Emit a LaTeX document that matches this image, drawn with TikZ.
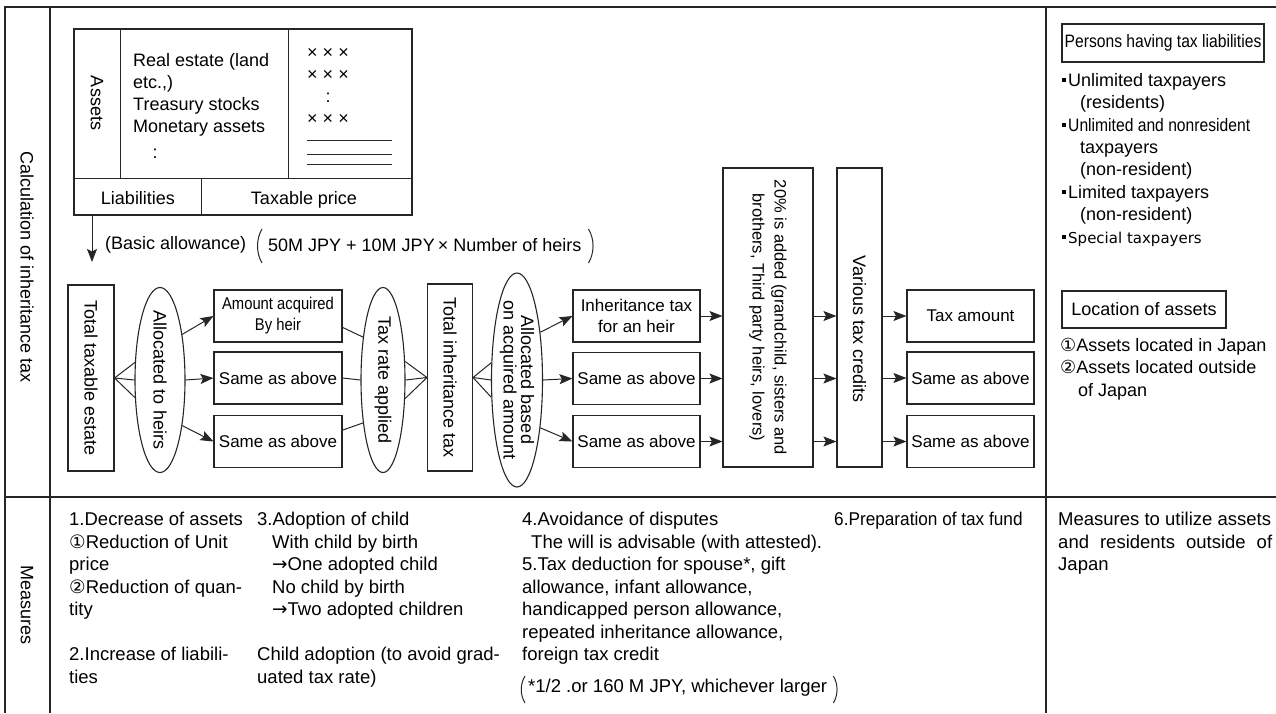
\documentclass[tikz,border=0pt]{standalone}
\usepackage{fontspec}
\setmainfont{Liberation Sans}
\newfontfamily\narrowfont[FakeStretch=0.87]{Liberation Sans}
\newfontfamily\semifont[FakeStretch=0.93]{Liberation Sans}
\newfontfamily\dejavu{DejaVu Sans}
\usetikzlibrary{shapes.geometric,arrows.meta,calc}

\newcommand\normtext{\fontsize{18}{22}\selectfont}
\newcommand\boxtext{\fontsize{17}{21}\selectfont}
\newcommand\meastext{\fontsize{18.5}{22.5}\selectfont}
\newcommand\circA{{\dejavu ①}}
\newcommand\circB{{\dejavu ②}}
\newcommand\toarr{{\dejavu →}}
\newcommand\sqmark{\rule[4.5pt]{4pt}{4pt}\hspace{2pt}}

\tikzset{
  frame/.style={draw=black!85,line width=1.3pt},
  link/.style={draw=black!85,line width=1pt},
  arr/.style={link,-{Stealth[length=13pt,width=10pt,inset=2.5pt]}},
  flowbox/.style={draw=black!85,line width=1.1pt,inner sep=0pt,align=center,font=\boxtext},
  oval/.style={draw=black!85,line width=1.1pt,ellipse,inner sep=0pt},
  vtext/.style={rotate=-90,inner sep=0pt,align=center,font=\normtext},
  plain/.style={inner sep=0pt,font=\normtext},
  mtext/.style={anchor=north west,inner sep=0pt,align=left,font=\meastext},
}

\begin{document}
\begin{tikzpicture}[x=1pt,y=-1pt]
  \useasboundingbox (0,0) rectangle (1276,713);

  % table frame
  \draw[frame] (5,713) -- (5,7) -- (1276,7);
  \draw[frame] (50,7) -- (50,713);
  \draw[frame] (1046,7) -- (1046,713);
  \draw[frame] (5,497) -- (1276,497);

  \node[vtext] (calclbl) at (27,267) {Calculation of inheritance tax};
  \node[vtext] (measlbl) at (27,605) {Measures};

  % assets table
  \node[draw=black!85,line width=2.2pt,minimum width=338pt,minimum height=186pt,inner sep=0pt] (assetbox) at (243,122) {};
  \draw[link] (74,178) -- (412,178);
  \draw[link] (120,29) -- (120,178);
  \draw[link] (288,29) -- (288,178);
  \draw[link] (201,178) -- (201,215);
  \node[vtext] (assetlbl) at (97,103) {Assets};
  \node[plain,anchor=north west,align=left] (assetlist) at (133,53) {Real estate (land\\etc.,)\\Treasury stocks\\Monetary assets};
  \node[plain] (assetdots) at (155,154) {:};
  \node[plain,anchor=north,align=center] (pricelist) at (328,48) {× × ×\\× × ×\\:\\× × ×};
  \draw[link] (307,140) -- (392,140);
  \draw[link] (307,154) -- (392,154);
  \draw[link] (307,164) -- (392,164);
  \node[plain,anchor=base] (liablbl) at (138,204) {Liabilities};
  \node[plain,anchor=base] (pricelbl) at (304,204) {Taxable price};

  % basic allowance
  \coordinate (allowtip) at (92,262);
  \draw[arr] (assetbox.south -| allowtip) -- (allowtip);
  \node[plain,anchor=west] (basic) at (105,245) {(Basic allowance)};
  \node[plain,anchor=west] (formula) at (268,245) {50M JPY + 10M JPY\,× Number of heirs};
  \draw[link] ($(formula.west)+(-6,-16)$) .. controls +(-6,10) and +(-6,-10) .. ($(formula.west)+(-6,18)$);
  \draw[link] ($(formula.east)+(7,-16)$) .. controls +(6,10) and +(6,-10) .. ($(formula.east)+(7,18)$);

  % flow
  \node[flowbox,minimum width=46pt,minimum height=186pt] (taxable) at (91,378) {\rotatebox{-90}{\normtext Total taxable estate}};
  \node[oval,minimum width=50pt,minimum height=185pt] (toheirs) at (160,380) {};
  \node[vtext] (toheirslbl) at (toheirs) {Allocated to heirs};
  \node[flowbox,minimum width=128pt,minimum height=52pt] (acq1) at (278,316) {\narrowfont Amount acquired\\\narrowfont By heir};
  \node[flowbox,minimum width=128pt,minimum height=52pt] (acq2) at (278,378) {Same as above};
  \node[flowbox,minimum width=128pt,minimum height=52pt] (acq3) at (278,441.5) {Same as above};
  \node[oval,minimum width=44pt,minimum height=185pt] (rate) at (383,380) {};
  \node[vtext] (ratelbl) at (rate) {Tax rate applied};
  \node[flowbox,minimum width=45pt,minimum height=187pt] (totinh) at (450,377.5) {\rotatebox{-90}{\normtext Total inheritance tax}};
  \node[oval,minimum width=51pt,minimum height=214pt] (byamt) at (517,380) {};
  \node[vtext,font=\fontsize{18}{17.5}\selectfont] (byamtlbl) at (byamt) {Allocated based\\on acquired amount};
  \node[flowbox,minimum width=127pt,minimum height=52pt] (heirtax1) at (636.5,316) {Inheritance tax\\for an heir};
  \node[flowbox,minimum width=127pt,minimum height=52pt] (heirtax2) at (636.5,378.5) {Same as above};
  \node[flowbox,minimum width=127pt,minimum height=52pt] (heirtax3) at (636.5,441.5) {Same as above};
  \node[flowbox,minimum width=90pt,minimum height=299pt] (addon) at (768,317.5) {};
  \node[vtext,font=\fontsize{16.5}{22}\selectfont] (addonlbl) at (addon) {20\% is added (grandchild, sisters and\\brothers, Third party heirs, lovers)};
  \node[flowbox,minimum width=45pt,minimum height=299pt] (credits) at (859.5,317.5) {};
  \node[vtext] (creditslbl) at (859.5,329) {Various tax credits};
  \node[flowbox,minimum width=127pt,minimum height=52pt] (taxamt1) at (970.5,316) {Tax amount};
  \node[flowbox,minimum width=127pt,minimum height=52pt] (taxamt2) at (970.5,378) {Same as above};
  \node[flowbox,minimum width=127pt,minimum height=52pt] (taxamt3) at (970.5,441.5) {Same as above};

  \foreach \a in {145,180,215}
    \draw[link] (taxable.east) -- (toheirs.\a);
  \draw[arr] (toheirs.64) -- (acq1.west);
  \draw[arr] (toheirs.east) -- (acq2.west);
  \draw[arr] (toheirs.-64) -- (acq3.west);
  \draw[link] (acq1.-10) -- (rate.115);
  \draw[link] (acq2.east) -- (rate.west);
  \draw[link] (acq3.10) -- (rate.245);
  \foreach \a in {40,0,-40}
    \draw[link] (rate.\a) -- (totinh.west);
  \foreach \a in {146,180,214}
    \draw[link] (totinh.east) -- (byamt.\a);
  \draw[arr] (byamt.64) -- (heirtax1.west);
  \draw[arr] (byamt.east) -- (heirtax2.west);
  \draw[arr] (byamt.-64) -- (heirtax3.west);
  \foreach \i in {1,2,3} {
    \draw[arr] (heirtax\i.east) -- (addon.west |- heirtax\i.east);
    \draw[arr] (addon.east |- heirtax\i.east) -- (credits.west |- heirtax\i.east);
    \draw[arr] (credits.east |- taxamt\i.west) -- (taxamt\i.west);
  }

  % liable persons and location
  \node[flowbox,minimum width=202pt,minimum height=38pt,font=\normtext\narrowfont] (liable) at (1163,43) {Persons having tax liabilities};
  \node[plain,anchor=north west,align=left,font=\fontsize{18}{22.4}\selectfont] (liablelist) at (1062,73) {\sqmark Unlimited taxpayers\\\hspace*{18pt}(residents)\\\sqmark{\narrowfont Unlimited and nonresident}\\\hspace*{18pt}taxpayers\\\hspace*{18pt}(non-resident)\\\sqmark Limited taxpayers\\\hspace*{18pt}(non-resident)\\\sqmark{\fontsize{15}{15}\dejavu Special taxpayers}};
  \node[flowbox,minimum width=164pt,minimum height=37pt,font=\normtext] (location) at (1144,309.5) {Location of assets};
  \node[plain,anchor=north west,align=left,font=\fontsize{18}{22.5}\selectfont] (loclist) at (1060,338) {\circA Assets located in Japan\\\circB Assets located outside\\\hspace*{18pt}of Japan};

  % measures
  \node[mtext] (meas1) at (69,512) {1.Decrease of assets\\\circA Reduction of Unit\\price\\\circB Reduction of quan-\\tity\\[22.5pt]2.Increase of liabili-\\ties};
  \node[mtext] (meas3) at (257,512) {3.Adoption of child\\\hspace*{15pt}With child by birth\\\hspace*{15pt}\toarr One adopted child\\\hspace*{15pt}No child by birth\\\hspace*{15pt}\toarr Two adopted children\\[22.5pt]Child adoption (to avoid grad-\\uated tax rate)};
  \node[mtext] (meas4) at (522,512) {4.Avoidance of disputes\\\hspace*{9pt}The will is advisable (with attested).\\5.Tax deduction for spouse*, gift\\allowance, infant allowance,\\handicapped person allowance,\\repeated inheritance allowance,\\foreign tax credit};
  \node[plain,anchor=west,font=\meastext] (spousenote) at (528,688) {*1/2 .or 160 M JPY, whichever larger};
  \draw[link] ($(spousenote.west)+(-3,-12)$) .. controls +(-5,8) and +(-5,-8) .. ($(spousenote.west)+(-3,15)$);
  \draw[link] ($(spousenote.east)+(6,-12)$) .. controls +(5,8) and +(5,-8) .. ($(spousenote.east)+(6,15)$);
  \node[mtext,font=\meastext\semifont] (meas6) at (834,512) {6.Preparation of tax fund};
  \node[mtext] (abroad) at (1058,512) {Measures to utilize assets\\\makebox[214pt][s]{and residents outside of}\\Japan};
\end{tikzpicture}
\end{document}
